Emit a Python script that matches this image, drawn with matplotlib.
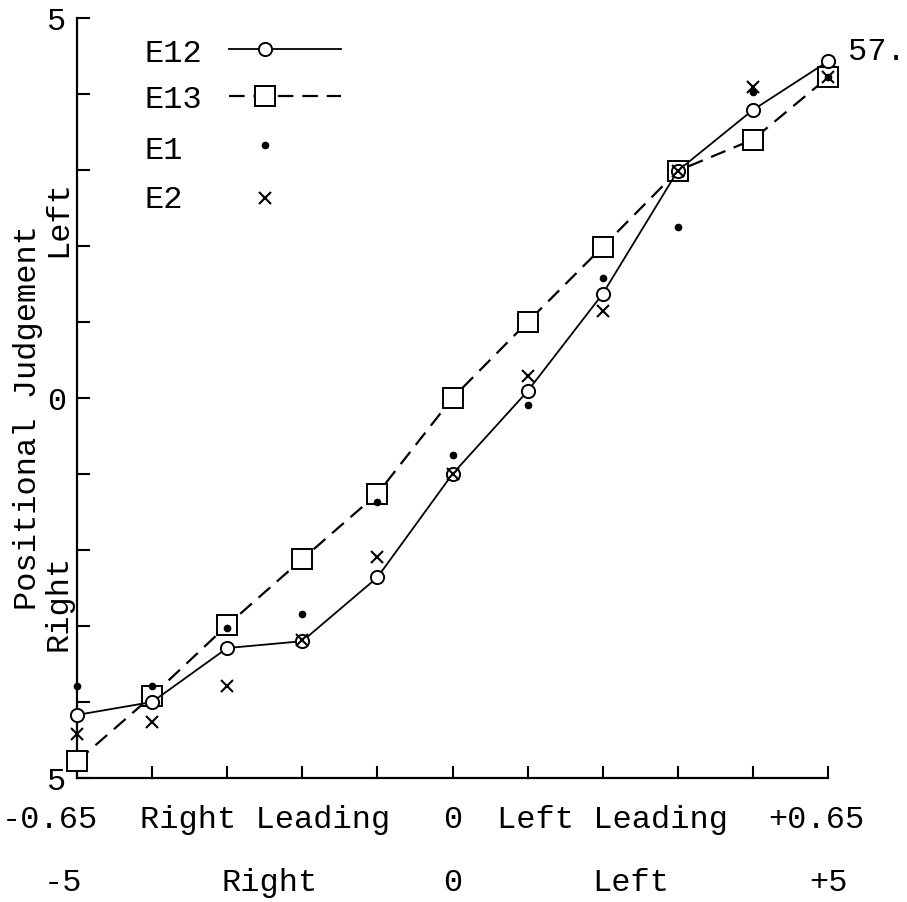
import matplotlib
matplotlib.use("Agg")
import matplotlib.pyplot as plt

# Positional judgement vs. stimulus step, typewritten figure (page 57)

# stimulus steps, -5 (right) .. +5 (left)
steps = [-5, -4, -3, -2, -1, 0, 1, 2, 3, 4, 5]

e12 = [-4.17, -4.00, -3.29, -3.20, -2.36, -1.00, 0.09, 1.37, 2.99, 3.79, 4.43]
e13 = [-4.78, -3.92, -2.99, -2.12, -1.26, 0.00, 1.00, 1.99, 2.99, 3.40, 4.22]
e1 = [-3.79, -3.79, -3.03, -2.84, -1.37, -0.75, -0.09, 1.58, 2.25, 4.03, 4.22]
e2 = [-4.42, -4.26, -3.79, -3.18, -2.09, -1.00, 0.29, 1.15, 2.99, 4.09, 4.22]

# two rows of labels under the x axis (label, x value)
row1_labels = ["-0.65", "Right Leading", "0", "Left Leading", "+0.65"]
row1_x = [-5.36, -2.5, 0, 2.13, 4.84]
row2_labels = ["-5", "Right", "0", "Left", "+5"]
row2_x = [-5.19, -2.43, 0, 2.37, 5.0]

ytick_labels = ["5", "", "", "", "", "0", "", "", "", "", "5"]

fs = 23
plt.rcParams['font.family'] = ['Liberation Mono', 'DejaVu Sans Mono']

fig = plt.figure(figsize=(9.07, 9.03), dpi=100)
ax = fig.add_axes([77/907, 124/903, 751/907, 760/903])

# series styles
sq = dict(color='black', lw=1.6, dashes=(7, 4), marker='s', ms=15,
          mfc='white', mec='black', mew=1.4)
circ = dict(color='black', lw=1.3, marker='o', ms=9.5,
            mfc='white', mec='black', mew=1.4)
dot = dict(ls='none', marker='o', ms=4.5, color='black')
cross = dict(ls='none', marker='x', ms=9, mew=1.5, color='black')

ax.plot(steps, e13, clip_on=False, zorder=3, **sq)
ax.plot(steps, e12, clip_on=False, zorder=4, **circ)
ax.plot(steps, e1, clip_on=False, zorder=5, **dot)
ax.plot(steps, e2, clip_on=False, zorder=5, **cross)

ax.set_xlim(-5, 5)
ax.set_ylim(-5, 5)
for s in ['top', 'right']:
    ax.spines[s].set_visible(False)
for s in ['left', 'bottom']:
    ax.spines[s].set_linewidth(1.6)

ax.set_xticks(steps)
ax.set_xticklabels([])
ax.set_yticks(steps)
ax.set_yticklabels(ytick_labels, fontsize=fs)
ax.tick_params(axis='both', direction='in', length=9, width=1.5, pad=8)

# x labels, two rows
for lab, x in zip(row1_labels, row1_x):
    ax.text(x, -0.054, lab, transform=ax.get_xaxis_transform(),
            ha='center', va='center', fontsize=fs)
for lab, x in zip(row2_labels, row2_x):
    ax.text(x, -0.137, lab, transform=ax.get_xaxis_transform(),
            ha='center', va='center', fontsize=fs)

# y labels
ax.text(-0.065, -0.24, "Positional Judgement", transform=ax.get_yaxis_transform(),
        rotation=90, ha='center', va='center', fontsize=fs)
ax.text(-0.025, 2.38, "Left", transform=ax.get_yaxis_transform(),
        rotation=90, ha='center', va='center', fontsize=fs)
ax.text(-0.025, -2.68, "Right", transform=ax.get_yaxis_transform(),
        rotation=90, ha='center', va='center', fontsize=fs)

# key, typed label first then the sample (labels left aligned)
key = [("E12", circ, True, 0.943, 0.959),
       ("E13", sq, True, 0.883, 0.897),
       ("E1", dot, False, 0.816, 0.833),
       ("E2", cross, False, 0.751, 0.763)]
for lab, st, has_line, ybase, ymark in key:
    ax.text(0.0905, ybase, lab, transform=ax.transAxes, ha='left',
            va='baseline', fontsize=fs)
    if has_line:
        line_st = {k: v for k, v in st.items() if k not in ('marker', 'ms', 'mfc', 'mec', 'mew')}
        ax.plot([0.2024, 0.3515], [ymark, ymark], transform=ax.transAxes,
                clip_on=False, **line_st)
    mk_st = dict(st)
    mk_st['ls'] = 'none'
    mk_st.pop('dashes', None)
    ax.plot([0.2503], [ymark], transform=ax.transAxes, clip_on=False,
            zorder=5, **mk_st)

fig.text(848/907, 1 - 52/903, "57.", ha='left', va='center', fontsize=fs)

plt.savefig("out.png", dpi=100)
